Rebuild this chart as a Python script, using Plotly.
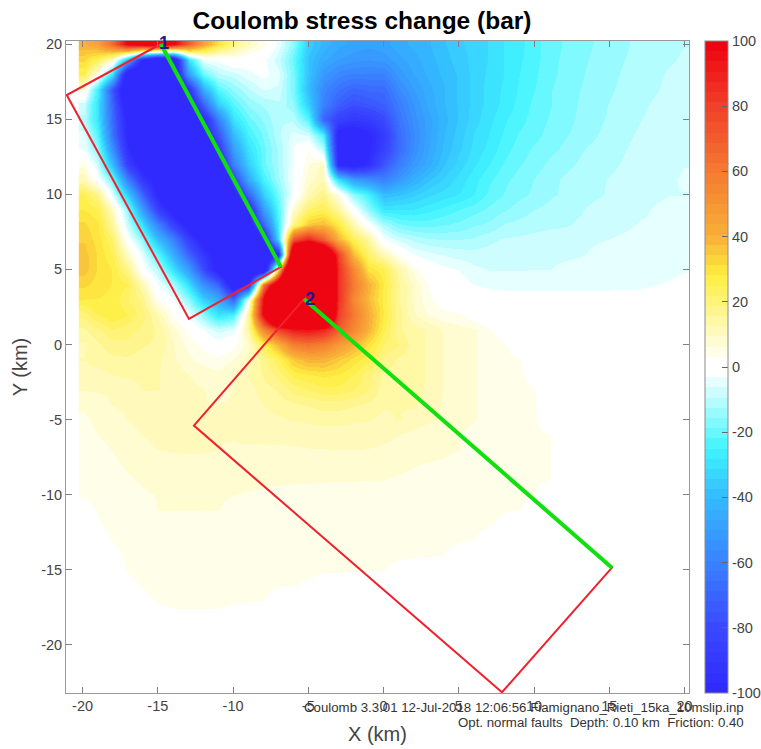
import plotly.graph_objects as go
import numpy as np

title_text = "<b>Coulomb stress change (bar)</b>"
footer_1 = "Coulomb 3.3.01 12-Jul-2018 12:06:56 Fiamignano_Rieti_15ka_10mslip.inp"
footer_2 = "Opt. normal faults  Depth: 0.10 km  Friction: 0.40"

x_ticks = [-20, -15, -10, -5, 0, 5, 10, 15, 20]
x_tick_labels = ["-20", "-15", "-10", "-5", "0", "5", "10", "15", "20"]
y_ticks = [20, 15, 10, 5, 0, -5, -10, -15, -20]
y_tick_labels = ["20", "15", "10", "5", "0", "-5", "-10", "-15", "-20"]
bar_ticks = [-100, -80, -60, -40, -20, 0, 20, 40, 60, 80, 100]
bar_tick_labels = ["-100", "-80", "-60", "-40", "-20", "0", "20", "40", "60", "80", "100"]

x_km = list(range(-20, 21))
y_km = list(range(20, -24, -1))

# Coulomb stress (bar); rows run y = 20 ... -23, columns x = -20 ... 20
stress_rows = [
[40,45,65,100,110,120,100,70,45,30,18,10,4,-4,-15,-35,-42,-46,-48,-49, -48,-45,-43,-41,-38,-35,-33,-31,-28,-26,-23,-20,-18.5,-17,-15.5,-14,-13,-11.5,-10.5,-9.8,-9.5],
[32,25,10,-40,-100,-130,-120,-30,-3,-2,2,-1,-2,-8,-20,-38,-46,-50,-52,-53, -52,-48,-45,-42,-39,-36,-33,-31,-28,-25.5,-23,-20,-18,-16.5,-15,-14,-12.5,-11.5,-10.5,-9.7,-9],
[25,5,-30,-115,-130,-130,-120,-50,-20,-10,-8,-4,-2,-5,-18,-38,-52,-58,-60,-60, -60,-52,-47,-43,-40,-37,-33,-30.5,-28,-25,-22.5,-19.5,-18,-16,-14.8,-13.5,-12,-11,-10,-9,-8.5],
[6,-25,-75,-120,-130,-130,-130,-95,-45,-22,-15,-10,-6,-7,-18,-40,-58,-65,-70,-68, -68,-57,-50,-45,-41,-37,-33,-30,-27.5,-24.5,-22,-19,-17.5,-15.7,-14.5,-13,-11.5,-10.5,-9.7,-8.7,-8],
[-8,-28,-70,-110,-130,-130,-130,-110,-70,-35,-22,-15,-12,-10,-15,-35,-60,-72,-78,-75, -72,-62,-53,-46,-41,-37,-33,-30,-27,-24,-21,-19,-17.5,-15.3,-14,-12.3,-11,-10,-9,-8.2,-7.7],
[-10,-28,-68,-102,-130,-130,-130,-130,-100,-60,-30,-20,-15,-10,-10,-22,-70,-85,-90,-88, -80,-65,-55,-48,-42,-37,-32.5,-29,-25.5,-23,-20.5,-18.5,-17,-15,-13.5,-12,-10.5,-9.5,-8.7,-8,-7.4],
[-5,-22,-65,-100,-130,-130,-130,-130,-105,-75,-40,-25,-18,-10,-5,-7,-25,-105,-105,-100, -88,-68,-57,-48,-41,-36,-31,-28,-24.5,-21.5,-20,-17.5,-16,-14.5,-13,-11,-10,-9,-8,-7.3,-7],
[-3,-15,-55,-95,-115,-130,-130,-130,-130,-90,-50,-30,-20,-12,-3,3,-10,-105,-110,-100, -85,-68,-56,-47,-40,-35,-30,-27,-23,-20.5,-18,-16.5,-15,-13,-11.5,-10.5,-9.5,-8.5,-7.7,-7,-6.7],
[5,-7,-40,-85,-105,-130,-130,-130,-130,-105,-60,-35,-20,-12,-3,6,10,-100,-105,-95, -75,-62,-52,-45,-38,-33,-28.5,-25,-21.5,-19,-17,-15,-13.5,-12,-10.5,-10,-9,-8,-7.2,-6.8,-6.3],
[12,0,-18,-60,-90,-105,-130,-130,-130,-130,-85,-45,-25,-13,-2,8,12,-30,-50,-55, -60,-52,-44,-38,-34,-30,-26,-22.5,-19.5,-17.5,-15.5,-13.5,-12,-10.8,-10,-9.2,-8.5,-7.5,-7,-6.5,-6],
[25,18,-5,-35,-70,-100,-120,-130,-130,-130,-105,-70,-35,-18,-2,12,18,5,-15,-25, -40,-38,-35,-32,-30,-28,-25,-21,-18.5,-16.5,-15,-13,-12,-10.7,-10,-9,-8,-7.5,-6.8,-6.3,-6.3],
[28,26,10,-15,-50,-85,-105,-130,-130,-130,-130,-100,-50,-22,8,22,25,15,0,-15, -28,-28,-28,-26,-24,-22,-20,-18,-16,-14,-12.5,-11.5,-10,-9.7,-8.5,-8,-7.5,-7,-6,-5.5,-5],
[32,29,15,-8,-30,-60,-85,-105,-130,-130,-130,-105,-70,-25,18,35,38,28,12,-1, -12,-18,-20,-20,-19,-18,-16,-15,-12.2,-11.5,-10.5,-10,-9.7,-9,-8,-7.7,-7,-6,-5.7,-5,-4.7],
[34,30,22,0,-15,-40,-60,-85,-105,-130,-130,-130,-105,-30,75,90,70,40,25,15, -2,-7,-10,-12,-12.5,-12.5,-12,-10,-9,-8.7,-8.3,-8,-7.8,-7,-6.5,-6.2,-5.5,-5,-4.6,-4.3,-4],
[36,31,25,10,-5,-22,-45,-70,-90,-105,-130,-130,-130,-100,150,180,150,80,38,22, 12,3,-3.2,-5,-6.5,-7.5,-8,-8,-7.8,-7.5,-7.3,-7,-6.8,-6.5,-5.8,-5.5,-5,-4.5,-4,-3.8,-3.6],
[36,31,28,18,0,-10,-30,-50,-80,-105,-130,-130,-130,30,200,200,180,85,55,30, 26,14,5,0,-2,-3.3,-5.5,-6.4,-6.5,-6.4,-6.3,-6.3,-5.5,-5,-4.7,-4.5,-4.2,-4,-3.7,-3.4,-3.2],
[32,30,28,25,12,-3,-12,-30,-55,-70,-110,-100,60,130,200,200,200,85,60,40, 28,16,9,3,-0.5,-1.5,-3.2,-3.4,-3.5,-3.5,-3.5,-3.5,-3.5,-3.5,-3.5,-3.5,-3.4,-3.4,-3.2,-3,-2.8],
[28,28,27,22,18,3,-2,-15,-35,-45,-70,0,100,200,200,200,180,85,55,38, 27,16,9,4,1,0,-1.5,-2.5,-2.5,-2.5,-2.5,-2.5,-2.5,-2.5,-2.5,-2.5,-2.5,-2.5,-2.3,-2.2,-2],
[20,25,28,25,20,12,2,-3,-15,-30,-25,15,100,180,180,180,170,80,60,42, 28,17,10,6,4,3.5,0.5,-1,-1.5,-1.5,-1.5,-1.5,-1.5,-1.5,-1.5,-1.5,-1.5,-1.5,-1.5,-1.3,-1],
[15,18,22,20,18,15,8,2,-3,-8,-5,15,55,80,92,95,90,70,55,40, 26,16,14,12,9.2,7.5,6.6,3.5,1,0,-0.5,-1,-1,-1,-1,-1,-1,-1,-1,-0.8,-0.5],
[12,15,17,18,16,15,9.5,5,2,-1,2,8,25,40,58,62,58,48,40,30, 22,19,14,12,9.2,7.5,6.6,4.5,3.3,1,0,0,-0.5,-0.5,-0.5,-0.5,-0.5,-0.5,-0.5,-0.5,-0.3],
[12.6,14,15,15,14,13,10,7,5,4,6.3,11,17,24,35,40,40,35,30,26, 18,15,14,12,9.2,7.5,6.6,4.5,4,3.3,1,0,0,0,0,0,0,0,0,0,0],
[11,11,12.6,13,13,12.6,11,9.5,8,7,9.5,12.6,16,20,26,28,29,28,25,20, 15,14,14,12,9.2,7.5,6.6,4.5,4,3.5,2,0,0,0,0,0,0,0,0,0,0],
[9.5,9.7,10,11,12.6,12.6,11,10,9.5,8,9.5,11,14,16,20,22,24,24,22,19, 14,13,13.5,12,9.2,7.5,6.6,4.5,4,3.7,3.3,1,0,0,0,0,0,0,0,0,0],
[7,8,9.5,10,11,11.5,11,10,9.5,9.5,9.7,10.5,12.6,14,15,16,17,17,16,15, 13,12.6,13,11,9,7.5,6.6,4.5,4.2,3.8,3.3,1,0,0,0,0,0,0,0,0,0],
[5.5,7,8,9.5,10,11,11,10.5,9.6,9.6,10,10.5,11,12,12.7,13,13.5,13.5,13,12.7, 11.5,12.8,11,10,9,7.5,6.5,4.5,4.2,4,3.4,1.5,0,0,0,0,0,0,0,0,0],
[4.5,6.3,7.5,8.5,9.5,10,10,10,9.5,9.4,9.5,10,10.2,10.5,10.5,11,11,11,11,10.5, 10,9.5,8.5,7.5,6.5,6.3,5,4.5,4.2,4,3.6,3.2,1,0,0,0,0,0,0,0,0],
[4,5,6.4,7.5,8.5,9.4,9.6,9.6,9.6,9.4,9.2,9,8.9,8.8,9,9.2,9.3,9.4,9.4,9.3, 9,8.5,8,7.5,7,6.3,5,4.5,4.2,3.8,3.5,3.3,1,0,0,0,0,0,0,0,0],
[3.5,4.3,5.5,6.8,7.6,8.2,8.5,8.7,8.7,8.3,8,7.8,7.5,7.5,7.5,7.5,7.5,7.5,7.5,7.3, 7,6.8,6.4,6,5.7,5.2,4.7,4.3,4,3.7,3.4,3.2,1,0,0,0,0,0,0,0,0],
[3.3,3.8,4.7,5.8,6.7,7.2,7.6,7.6,7.5,7.4,7.1,6.9,6.7,6.6,6.5,6.5,6.4,6.4,6.4,6.3, 6.3,6,5.6,5.3,5,4.6,4.3,4,3.7,3.5,3.3,3.2,1,0,0,0,0,0,0,0,0],
[3.2,3.4,4,5,5.8,6.4,6.8,6.9,6.8,6.5,6.3,6.1,5.9,5.7,5.6,5.5,5.4,5.4,5.4,5.3, 5.2,5,4.7,4.5,4.3,4,3.8,3.6,3.4,3.3,3.2,2,1,0,0,0,0,0,0,0,0],
[2.8,3.2,3.7,4.3,5.2,6.3,6.3,6.3,6.3,6.3,5.6,5.3,5.1,5,4.9,4.8,4.7,4.7,4.6,4.5, 4.5,4.3,4.1,3.9,3.7,3.6,3.4,3.3,3.2,3.2,2.5,1,0,0,0,0,0,0,0,0,0],
[2,3,3.4,3.9,4.5,5,5.2,5.3,5.3,5.1,4.9,4.7,4.5,4.4,4.3,4.2,4.1,4,4,3.9, 3.9,3.8,3.7,3.5,3.4,3.3,3.3,3.2,2.9,2,1,0.5,0,0,0,0,0,0,0,0,0],
[1.5,2.7,3.2,3.6,4,4.3,4.6,4.7,4.7,4.5,4.3,4.2,4,3.9,3.9,3.8,3.7,3.6,3.6,3.5, 3.5,3.5,3.4,3.3,3.3,3.2,3.15,2.7,2,1.5,1,0.5,0,0,0,0,0,0,0,0,0],
[1,2,2.8,3.3,3.6,3.9,4.1,4.2,4.2,4.1,3.9,3.8,3.7,3.6,3.5,3.5,3.4,3.4,3.3,3.3, 3.3,3.3,3.2,3.2,3.15,2.8,2.4,2,1.5,1,0.5,0,0,0,0,0,0,0,0,0,0],
[0.8,1.5,2.6,3.2,3.4,3.6,3.8,3.9,3.9,3.8,3.7,3.5,3.4,3.4,3.3,3.3,3.2,3.2,3.2,3.2, 3.15,2.9,2.8,2.6,2.4,2,1.5,1,0.5,0,0,0,0,0,0,0,0,0,0,0,0],
[0.5,1,2,2.9,3.2,3.4,3.5,3.6,3.6,3.5,3.4,3.3,3.3,3.2,3.2,3,2.9,2.8,2.7,2.6, 2.5,2.4,2.2,2,1.5,1,0.5,0,0,0,0,0,0,0,0,0,0,0,0,0,0],
[0,0.5,1.5,2.5,2.9,3.2,3.3,3.3,3.3,3.3,3.2,3.2,3.15,2.8,2.6,2.4,2.3,2.2,2,1.9, 1.8,1.6,1.4,1.2,1,0.5,0,0,0,0,0,0,0,0,0,0,0,0,0,0,0],
[0,0,1,2,2.5,2.9,3,3,3,3,2.9,2.8,2.6,2.4,2.2,2,1.9,1.8,1.6,1.5, 1.4,1.2,1,0.8,0.5,0,0,0,0,0,0,0,0,0,0,0,0,0,0,0,0],
[0,0,0.5,1.5,2,2.2,2.3,2.4,2.4,2.3,2.2,2.1,2,1.9,1.8,1.6,1.5,1.3,1.2,1.1, 1,0.8,0.6,0.4,0.2,0,0,0,0,0,0,0,0,0,0,0,0,0,0,0,0],
[0,0,0,1,1.5,1.8,1.9,2,2,1.9,1.8,1.7,1.6,1.5,1.4,1.2,1.1,1,0.9,0.8, 0.7,0.5,0.3,0.1,0,0,0,0,0,0,0,0,0,0,0,0,0,0,0,0,0],
[0,0,0,0.5,1,1.3,1.5,1.6,1.6,1.5,1.4,1.3,1.2,1.1,1,0.9,0.8,0.7,0.6,0.5, 0.4,0.3,0.1,0,0,0,0,0,0,0,0,0,0,0,0,0,0,0,0,0,0],
[0,0,0,0,0.5,0.9,1.1,1.2,1.2,1.1,1,0.9,0.8,0.7,0.7,0.6,0.5,0.4,0.4,0.3, 0.2,0.1,0,0,0,0,0,0,0,0,0,0,0,0,0,0,0,0,0,0,0],
[0,0,0,0,0.2,0.5,0.7,0.8,0.8,0.7,0.7,0.6,0.5,0.4,0.4,0.3,0.3,0.2,0.2,0.1, 0.1,0,0,0,0,0,0,0,0,0,0,0,0,0,0,0,0,0,0,0,0],
]

fault1_x = [-14.8, -21.05, -12.93, -6.82, -14.8]
fault1_y = [20.0, 16.6, 1.7, 5.16, 20.0]
fault1_trace_x = [-14.8, -6.82]
fault1_trace_y = [20.0, 5.16]
fault2_x = [-5.28, -12.6, 7.87, 15.18, -5.28]
fault2_y = [3.03, -5.4, -23.15, -14.86, 3.03]
fault2_trace_x = [-5.28, 15.18]
fault2_trace_y = [3.03, -14.86]

# colour map
anchors = [(-100, (48, 40, 255)), (-80, (58, 72, 255)), (-60, (58, 130, 255)), (-40, (51, 187, 255)),
           (-25, (64, 245, 255)), (-4.7, (230, 255, 255)), (4.7, (255, 254, 233)), (28, (255, 238, 64)),
           (40, (248, 176, 56)), (60, (245, 122, 48)), (80, (240, 64, 42)), (100, (238, 0, 16))]
vals = [a[0] for a in anchors]
n_levels = 64
scale = []
for k in range(n_levels):
    m = -100 + 200 * (k + 0.5) / n_levels
    if abs(m) < 3.125:
        rgb = (255, 255, 255)
    else:
        rgb = tuple(int(round(np.interp(m, vals, [a[1][i] for a in anchors]))) for i in range(3))
    c = f"rgb({rgb[0]},{rgb[1]},{rgb[2]})"
    scale.append([k / n_levels, c])
    scale.append([(k + 1) / n_levels, c])

bad = [i for i, r in enumerate(stress_rows) if len(r) != len(x_km)]
assert not bad and len(stress_rows) == len(y_km), (bad, len(stress_rows))

FONT = "Liberation Sans"
x_edges = [-20.25] + [x + 0.5 for x in x_km]
y_edges = [y - 0.5 for y in y_km[::-1]] + [y_km[0] + 0.5]

fig = go.Figure()
fig.add_trace(go.Heatmap(
    z=stress_rows[::-1], x=x_edges, y=y_edges, zmin=-100, zmax=100, zsmooth="best",
    colorscale=scale, hoverinfo="skip",
    colorbar=dict(thickness=23, len=1, lenmode="fraction", x=1.0257, xanchor="left", xpad=0, y=0.5, yanchor="middle", ypad=0,
                  outlinecolor="#8c8c8c", outlinewidth=1, tickmode="array", tickvals=bar_ticks, ticktext=bar_tick_labels,
                  ticks="inside", ticklen=6, tickcolor="#666666", tickfont=dict(family=FONT, size=14.5, color="#444444")),
))
for xs, ys, col, w in [(fault1_x, fault1_y, "#F2202E", 2), (fault2_x, fault2_y, "#F2202E", 2),
                       (fault1_trace_x, fault1_trace_y, "#10E010", 4), (fault2_trace_x, fault2_trace_y, "#10E010", 4)]:
    fig.add_trace(go.Scatter(x=xs, y=ys, mode="lines", line=dict(color=col, width=w), showlegend=False, hoverinfo="skip", cliponaxis=False))

axis_common = dict(showgrid=False, zeroline=False, showline=True, linecolor="#999999", linewidth=1, mirror="ticks",
                   ticks="inside", ticklen=6, tickcolor="#808080", tickfont=dict(family=FONT, size=14.5, color="#444444"))
fig.update_xaxes(range=[-21.1, 20.3], tickmode="array", tickvals=x_ticks, ticktext=x_tick_labels,
                 title=dict(text="X (km)", font=dict(family=FONT, size=20, color="#444444"), standoff=13), **axis_common)
fig.update_yaxes(range=[-23.2, 20.2], tickmode="array", tickvals=y_ticks, ticktext=y_tick_labels,
                 title=dict(text="Y (km)", font=dict(family=FONT, size=20, color="#444444"), standoff=8), **axis_common)

anns = [
    dict(text="<b>1</b>", x=-14.6, y=20.1, font=dict(family=FONT, size=18, color="#1C1C90")),
    dict(text="<b>2</b>", x=-4.9, y=3.0, font=dict(family=FONT, size=18, color="#1C1C90")),
]
for a in anns:
    fig.add_annotation(xref="x", yref="y", showarrow=False, **a)
fig.add_annotation(text=footer_1, xref="paper", yref="paper", x=(746 - 66) / 623, y=(693 - 707) / 652, xanchor="right", yanchor="middle",
                   showarrow=False, font=dict(family=FONT, size=13.25, color="#333333"))
fig.add_annotation(text=footer_2, xref="paper", yref="paper", x=(746 - 66) / 623, y=(693 - 722) / 652, xanchor="right", yanchor="middle",
                   showarrow=False, font=dict(family=FONT, size=13.25, color="#333333"))

fig.update_layout(
    width=761, height=749, margin=dict(l=66, r=72, t=41, b=56, autoexpand=False), paper_bgcolor="white", plot_bgcolor="white",
    showlegend=False,
    title=dict(text=title_text, x=362 / 761, xanchor="center", y=1 - 20 / 749, yanchor="middle", font=dict(family=FONT, size=24.5, color="#000000")),
)
fig.write_html("out.html", config=dict(displayModeBar=False),
               post_script="document.body.style.margin='0';document.body.style.overflow='hidden';")
